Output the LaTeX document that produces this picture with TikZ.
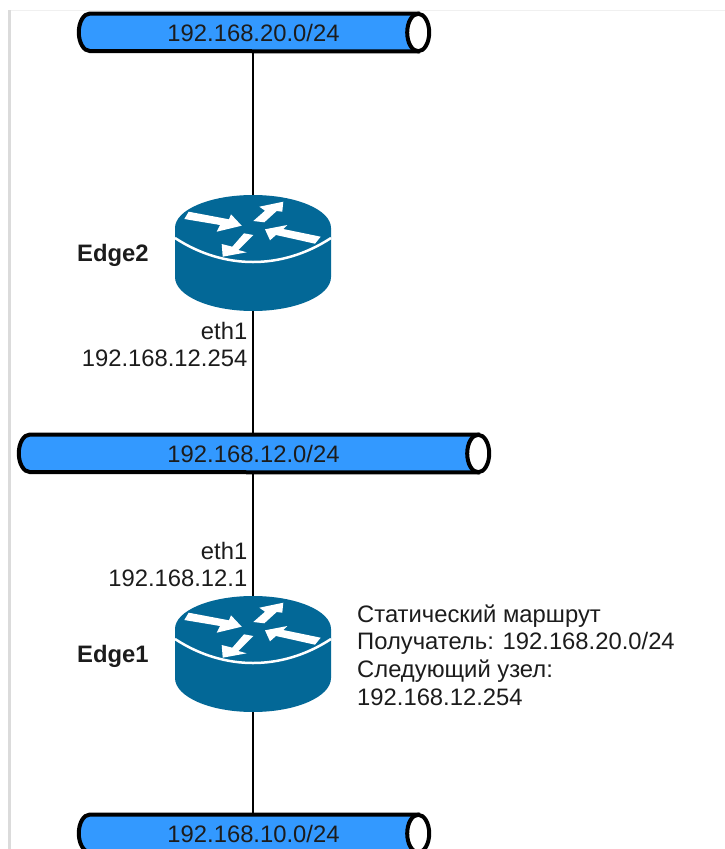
\documentclass[tikz,border=0pt]{standalone}
\usepackage{fontspec}
\setmainfont{Liberation Sans}
\usepackage{tikz}
\definecolor{netblue}{HTML}{3399FF}
\definecolor{routerblue}{HTML}{036897}
\definecolor{inktext}{HTML}{1C1C1C}
\newcommand{\pipebody}[1]{
  \draw [pipeline,fill=netblue] (#1.north east) -- (#1.north west) arc (270:90:11 and 18.75) -- (#1.south east) -- cycle;
  \draw [pipeline,fill=white] (#1.east) ellipse [x radius=11,y radius=18.75];
}
\tikzset{
  font={\fontsize{23.8pt}{27.7pt}\selectfont},
  netbox/.style={minimum height=37.5pt,inner sep=0pt},
  pipeline/.style={line width=4pt,black},
  routerbox/.style={minimum width=156pt,minimum height=116pt,inner sep=0pt},
  link/.style={line width=1.5pt,black},
  caption/.style={inner sep=0pt,text=inktext},
  routerpic/.pic={
    \fill [routerblue] (-78,-25) arc (180:360:78 and 33) -- (78,24) arc (0:180:78 and 34) -- cycle;
    \draw [white,line width=2.5pt] (-78,-15) .. controls (-52,2) and (-25,9) .. (0,9) .. controls (25,9) and (52,2) .. (78,-15);
    \fill [white] (-64.3,-41.3) -- (-24,-33.7) -- (-22,-38.7) -- (-11.3,-27.3) -- (-36.3,-21.3) -- (-33,-28) -- (-68.7,-34) -- cycle;
    \fill [white] (0.3,-32) -- (12,-42.3) -- (6.3,-46.3) -- (30.3,-51.3) -- (29.3,-41.3) -- (23.7,-42) -- (11.3,-30.7) -- cycle;
    \fill [white] (12,-23.7) -- (34.3,-28) -- (30.3,-24) -- (67.7,-16.3) -- (62,-9.3) -- (23,-18) -- (17,-12.7) -- cycle;
    \fill [white] (-30.3,3.7) -- (-31.3,-9) -- (-20.7,-6.3) -- (-9,-19.7) -- (0.3,-18) -- (-14.7,-3) -- (-6.3,-0.7) -- cycle;
  }}

\begin{document}
\begin{tikzpicture}[x=1pt,y=-1pt]
\useasboundingbox (0,0) rectangle (725,849);
\clip (0,0) rectangle (725,849);
\fill [white] (0,0) rectangle (725,849);
\draw [line width=1pt,black!6] (10,10) -- (725,10);
\draw [line width=2.5pt,black!14] (9.5,10) -- (9.5,849);
\node (net20) [netbox,minimum width=328pt] at (254,32.5) {};
\node (net12) [netbox,minimum width=448pt] at (254,453.5) {};
\node (net10) [netbox,minimum width=328pt] at (254,833.5) {};
\pipebody{net20}
\pipebody{net12}
\pipebody{net10}
\node (net20name) [caption] at (253.5,33) {192.168.20.0/24};
\node (net12name) [caption] at (253.5,454) {192.168.12.0/24};
\node (net10name) [caption] at (253.5,834) {192.168.10.0/24};
\node (edge2) [routerbox] at (253,253) {};
\node (edge1) [routerbox] at (253,654) {};
\pic at (edge2.center) {routerpic};
\pic at (edge1.center) {routerpic};
\draw [link] (edge2.north) -- (edge2.north |- net20.south);
\draw [link] (edge2.south) -- (edge2.south |- net12.north);
\draw [link] (edge1.north) -- (edge1.north |- net12.south);
\draw [link] (edge1.south) -- (edge1.south |- net10.north);
\node (edge2name) [caption,anchor=west,font={\fontsize{23.8pt}{27.7pt}\selectfont\bfseries}] at (77,255) {Edge2};
\node (edge1name) [caption,anchor=west,font={\fontsize{23.8pt}{27.7pt}\selectfont\bfseries}] at (77,656) {Edge1};
\node (edge2port) [caption,anchor=east,align=right] at (247.5,344.5) {eth1\\192.168.12.254};
\node (edge1port) [caption,anchor=east,align=right] at (247.5,564.5) {eth1\\192.168.12.1};
\node (routenote) [caption,anchor=west,align=left] at (357,655) {Статический маршрут\\Получатель: 192.168.20.0/24\\Следующий узел:\\192.168.12.254};
\end{tikzpicture}
\end{document}
